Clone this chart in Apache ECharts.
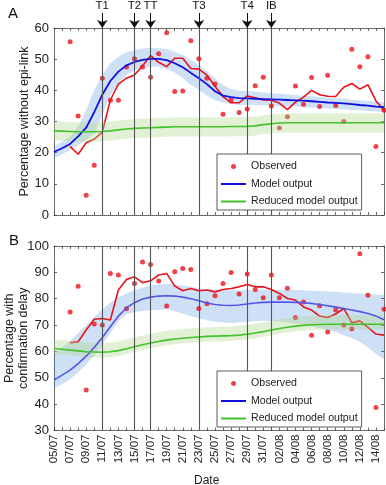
<!DOCTYPE html>
<html>
<head>
<meta charset="utf-8">
<script src="https://cdn.jsdelivr.net/npm/echarts@6/dist/echarts.min.js"></script>
<style>html,body{margin:0;padding:0;background:#fff}#c{width:386px;height:485px}</style>
</head>
<body>
<div id="c"></div>
<script>
// ---- data ----
const dates = ['05/07','06/07','07/07','08/07','09/07','10/07','11/07','12/07','13/07','14/07','15/07','16/07','17/07','18/07','19/07','20/07','21/07','22/07','23/07','24/07','25/07','26/07','27/07','28/07','29/07','30/07','31/07','01/08','02/08','03/08','04/08','05/08','06/08','07/08','08/08','09/08','10/08','11/08','12/08','13/08','14/08','15/08'];
const events = [
  {name:'T1', date:'11/07'}, {name:'T2', date:'15/07'}, {name:'TT', date:'17/07'},
  {name:'T3', date:'23/07'}, {name:'T4', date:'29/07'}, {name:'IB', date:'01/08'}
];
const legendNames = ['Observed','Model output','Reduced model output'];

// Panel A: percentage without epi-link
const observedA = ['-','-',55.6,31.8,6.3,16.0,43.9,36.8,36.8,47.5,50.1,47.5,44.2,51.7,58.5,39.6,39.8,55.9,50.1,43.9,42.0,32.3,36.9,32.9,34.0,41.5,44.2,35.0,27.9,31.5,41.4,35.5,44.1,34.8,44.8,35.1,30.0,53.2,47.6,50.8,22.0,33.6];
const smoothA = ['-','-',22.0,19.5,23.2,24.3,26.6,36.9,42.0,43.9,44.9,47.9,51.1,49.0,47.6,50.3,50.3,47.0,46.8,44.9,41.3,38.0,36.0,36.0,38.2,37.6,36.9,36.8,35.9,33.8,36.2,37.8,40.0,38.6,38.1,38.0,41.0,42.2,40.4,41.8,36.6,33.6];
const modelA = [20.2,21.4,22.8,25.2,28.0,33.0,38.6,43.0,46.0,48.0,49.1,49.8,50.1,50.1,49.7,48.7,47.4,45.6,43.9,42.0,39.7,38.3,37.8,37.5,37.4,37.3,37.2,37.1,37.0,36.9,36.8,36.7,36.5,36.3,36.1,36.0,35.8,35.6,35.3,35.1,34.8,34.6];
const modelUpperA = [22.0,23.5,25.2,28.4,33.7,40.1,44.9,48.7,50.8,52.2,52.9,53.4,53.7,53.5,53.3,52.4,51.3,49.7,48.1,46.0,43.9,41.7,40.4,39.9,39.8,39.6,39.3,39.1,38.9,38.7,38.5,38.3,38.1,37.9,37.7,37.5,37.3,37.0,36.8,36.6,36.4,36.2];
const modelLowerA = [18.2,19.5,20.9,22.5,24.1,26.2,32.1,38.5,42.3,44.9,46.5,47.3,47.6,47.6,46.8,45.7,43.9,41.7,40.1,38.3,36.9,36.1,35.6,35.3,35.3,35.2,35.2,35.1,35.0,34.9,34.8,34.6,34.5,34.3,34.2,34.0,33.9,33.7,33.5,33.4,33.2,33.0];
const reducedA = [27.0,26.9,26.8,26.7,26.7,26.7,26.8,27.0,27.3,27.6,27.8,27.9,28.0,28.1,28.2,28.3,28.3,28.3,28.3,28.3,28.3,28.3,28.4,28.4,28.4,28.6,29.0,29.3,29.5,29.6,29.6,29.6,29.6,29.6,29.6,29.6,29.6,29.6,29.6,29.6,29.6,29.6];
const reducedUpperA = [30.0,29.9,29.8,29.7,29.7,29.7,29.8,30.0,30.3,30.6,30.8,30.9,31.0,31.1,31.2,31.3,31.3,31.3,31.3,31.3,31.3,31.3,31.4,31.4,31.4,31.6,32.0,32.3,32.5,32.6,32.6,32.6,32.6,32.6,32.6,32.6,32.6,32.6,32.6,32.6,32.6,32.6];
const reducedLowerA = [23.9,23.8,23.7,23.6,23.6,23.6,23.7,23.9,24.2,24.5,24.7,24.8,24.9,25.0,25.1,25.2,25.2,25.2,25.2,25.2,25.2,25.2,25.3,25.3,25.3,25.5,25.9,26.2,26.4,26.5,26.5,26.5,26.5,26.5,26.5,26.5,26.5,26.5,26.5,26.5,26.5,26.5];

// Panel B: percentage with confirmation delay
const observedB = ['-','-',75.0,84.7,45.4,70.4,70.0,89.6,89.0,76.2,85.8,93.9,93.0,86.7,77.2,90.2,91.5,91.1,76.3,78.1,81.1,85.8,89.9,81.8,89.4,83.5,80.4,89.0,80.4,84.0,72.8,78.8,66.1,77.3,67.4,75.7,70.0,68.6,97.1,81.3,38.7,76.0];
const smoothB = ['-','-',63.3,63.7,68.1,72.2,72.5,71.9,83.3,87.3,88.3,86.1,86.8,89.0,89.6,84.8,83.0,83.9,83.0,83.3,82.6,83.5,83.9,84.5,85.4,84.5,84.5,83.5,82.0,80.1,79.5,76.9,75.7,73.4,72.9,74.2,76.3,70.9,71.6,69.1,66.6,66.2];
const modelB = [49.1,51.0,52.9,55.4,58.2,61.5,65.3,69.4,73.4,76.5,78.5,79.9,80.6,81.0,81.1,81.0,80.6,80.0,79.2,78.4,77.8,77.5,77.4,77.6,78.0,78.4,78.6,78.7,78.7,78.7,78.6,78.5,78.2,77.8,77.3,76.8,76.3,75.7,75.1,74.4,73.4,72.0];
const modelUpperB = [59.2,61.5,64.0,67.0,70.0,73.0,76.0,78.5,80.5,82.0,83.3,84.3,85.0,85.5,85.6,85.5,85.0,84.5,84.0,83.5,83.3,83.2,83.2,83.2,83.3,83.3,83.4,83.4,83.4,83.3,83.3,83.2,83.0,82.9,82.7,82.6,82.4,82.2,82.0,81.8,81.6,81.4];
const modelLowerB = [46.3,47.5,49.5,52.0,55.0,58.5,62.5,67.0,71.5,74.0,75.0,75.3,75.6,75.8,76.0,75.3,74.3,73.3,72.5,71.8,71.3,71.0,70.8,71.0,71.3,71.5,71.6,71.5,71.3,71.0,70.6,70.1,69.5,68.8,68.0,67.5,66.0,65.0,63.7,61.5,59.0,57.0];
const reducedB = [61.1,60.8,60.5,60.2,59.9,59.8,59.7,59.9,60.3,61.0,61.8,62.5,63.2,63.8,64.3,64.7,65.0,65.3,65.5,65.7,65.8,65.9,66.0,66.2,66.5,67.0,67.5,68.1,68.7,69.2,69.6,69.9,70.1,70.2,70.3,70.3,70.3,70.3,70.3,70.3,70.3,70.3];
const reducedUpperB = [64.6,64.3,64.0,63.7,63.4,63.3,63.2,63.4,63.8,64.5,65.3,66.0,66.7,67.3,67.8,68.2,68.5,68.8,69.0,69.2,69.3,69.4,69.5,69.7,70.0,70.5,71.0,71.6,72.2,72.7,73.1,73.4,73.6,73.7,73.8,73.8,73.8,73.8,73.8,73.8,73.8,73.8];
const reducedLowerB = [59.1,58.8,58.5,58.2,57.9,57.8,57.7,57.9,58.3,59.0,59.8,60.5,61.2,61.8,62.3,62.7,63.0,63.3,63.5,63.7,63.8,63.9,64.0,64.2,64.5,65.0,65.5,66.1,66.7,67.2,67.6,67.9,68.1,68.2,68.3,68.3,68.3,68.3,68.3,68.3,68.3,68.3];

// ---- styling ----
const RED = '#e8141c', BLUE = '#1010dd', BLUE_B = '#5555e8', GREEN = '#44c22a';
const BAND_BLUE = 'rgba(60,130,220,0.25)', BAND_GREEN = 'rgba(175,215,140,0.36)';
const AX = '#444';
const FONT = 'Liberation Sans, Arial, Helvetica, sans-serif';

const chart = echarts.init(document.getElementById('c'), null, {renderer:'canvas'});

function band(name, lower, upper, color, xi, yi, z) {
  const diff = upper.map((u, i) => +(u - lower[i]).toFixed(2));
  return [
    {name: name + '_lo', type:'line', xAxisIndex:xi, yAxisIndex:yi, data: lower, stack: name,
     symbol:'none', lineStyle:{opacity:0}, silent:true, z:z},
    {name: name + '_hi', type:'line', xAxisIndex:xi, yAxisIndex:yi, data: diff, stack: name,
     symbol:'none', lineStyle:{opacity:0}, areaStyle:{color: color, opacity:1}, silent:true, z:z}
  ];
}

function vlines(color) {
  return {
    silent:true, symbol:['none','none'], animation:false,
    label:{show:false},
    lineStyle:{color:color, width:1.1, type:'solid'},
    emphasis:{disabled:true},
    data: events.map(e => ({xAxis: dates.indexOf(e.date)}))
  };
}

function xAx(grid, pos, showLabels) {
  return {
    type:'category', data: dates, gridIndex: grid, position: pos, boundaryGap:false,
    axisLine:{show:true, onZero:false, lineStyle:{color:AX, width:0.8}},
    axisTick:{show:true, inside:true, length:3, interval:0, lineStyle:{color:AX, width:0.8}},
    axisLabel:{show: showLabels, interval:1, rotate:90, fontSize:11.5, color:'#222', fontFamily:FONT, margin:4},
    splitLine:{show:false}
  };
}
function yAx(grid, pos, min, max, showLabels, name, nameGap) {
  return {
    type:'value', gridIndex:grid, position:pos, min:min, max:max, interval:10,
    axisLine:{show:true, onZero:false, lineStyle:{color:AX, width:0.8}},
    axisTick:{show:true, inside:true, length:3, lineStyle:{color:AX, width:0.8}},
    axisLabel:{show:showLabels, fontSize:13, color:'#222', fontFamily:FONT, margin:5},
    splitLine:{show:false},
    name: name || '', nameLocation:'middle', nameGap: nameGap || 0, nameRotate:90,
    nameMoveOverlap:false,
    nameTextStyle:{fontSize:12.5, color:'#222', fontFamily:FONT, lineHeight:14}
  };
}

function legendAt(left, top) {
  return {
    data: [
      {name: legendNames[0], icon:'circle'},
      {name: legendNames[1], itemStyle:{opacity:0}},
      {name: legendNames[2], itemStyle:{opacity:0}}
    ],
    left:left, top:top, orient:'vertical',
    itemWidth:25, itemHeight:5, itemGap:6.5,
    padding:[7,4,3,3], borderColor:'#333', borderWidth:0.8, backgroundColor:'#fff',
    textStyle:{fontSize:10.6, color:'#222', fontFamily:FONT}, z:20, selectedMode:false
  };
}

const gridBase = {containLabel:false, outerBoundsMode:'none'};

const option = {
  animation:false,
  backgroundColor:'#fff',
  textStyle:{fontFamily:FONT},
  title:[
    {text:'A', left:3, top:1, textStyle:{fontSize:15, fontWeight:'normal', color:'#111', fontFamily:FONT}},
    {text:'B', left:4, top:228, textStyle:{fontSize:15, fontWeight:'normal', color:'#111', fontFamily:FONT}},
    {text:'Date', left:189, top:470, textStyle:{fontSize:12, fontWeight:'normal', color:'#222', fontFamily:FONT}}
  ],
  legend:[legendAt(217,154), legendAt(217,371)],
  grid:[
    Object.assign({left:54, top:28, width:330, height:187}, gridBase),
    Object.assign({left:54, top:246, width:330, height:184.5}, gridBase),
    Object.assign({left:54, top:13, width:330, height:15}, gridBase)
  ],
  xAxis:[
    xAx(0,'bottom',false), xAx(0,'top',false),
    xAx(1,'bottom',true), xAx(1,'top',false),
    {type:'category', data:dates, gridIndex:2, boundaryGap:false, show:false}
  ],
  yAxis:[
    yAx(0,'left',0,60,true,'Percentage without epi-link',22), yAx(0,'right',0,60,false),
    yAx(1,'left',30,100,true,'Percentage with\nconfirmation delay',23), yAx(1,'right',30,100,false),
    {type:'value', gridIndex:2, min:0, max:1, show:false}
  ],
  series:[
    ...band('bandModelA', modelLowerA, modelUpperA, BAND_BLUE, 0, 0, 1),
    ...band('bandReducedA', reducedLowerA, reducedUpperA, BAND_GREEN, 0, 0, 3),
    ...band('bandModelB', modelLowerB, modelUpperB, BAND_BLUE, 2, 2, 1),
    ...band('bandReducedB', reducedLowerB, reducedUpperB, BAND_GREEN, 2, 2, 3),
    {name:'Observed', type:'scatter', xAxisIndex:0, yAxisIndex:0, data: observedA,
     symbol:'circle', symbolSize:5, itemStyle:{color:RED}, z:2},
    {name:'smoothA', type:'line', xAxisIndex:0, yAxisIndex:0, data: smoothA, symbol:'none',
     lineStyle:{color:RED, width:1.6}, z:2},
    {name:'Model output', type:'line', xAxisIndex:0, yAxisIndex:0, data: modelA, symbol:'none',
     lineStyle:{color:BLUE, width:1.8}, itemStyle:{color:BLUE}, z:4},
    {name:'Reduced model output', type:'line', xAxisIndex:0, yAxisIndex:0, data: reducedA, symbol:'none',
     lineStyle:{color:GREEN, width:1.6}, itemStyle:{color:GREEN}, z:4,
     markLine: vlines('#555')},
    {name:'Observed', type:'scatter', xAxisIndex:2, yAxisIndex:2, data: observedB,
     symbol:'circle', symbolSize:5, itemStyle:{color:RED}, z:2},
    {name:'smoothB', type:'line', xAxisIndex:2, yAxisIndex:2, data: smoothB, symbol:'none',
     lineStyle:{color:RED, width:1.6}, z:2},
    {name:'Model output', type:'line', xAxisIndex:2, yAxisIndex:2, data: modelB, symbol:'none',
     lineStyle:{color:BLUE_B, width:1.6}, itemStyle:{color:BLUE}, z:4},
    {name:'Reduced model output', type:'line', xAxisIndex:2, yAxisIndex:2, data: reducedB, symbol:'none',
     lineStyle:{color:GREEN, width:1.6}, itemStyle:{color:GREEN}, z:4,
     markLine: vlines('#555')},
    {name:'events', type:'line', xAxisIndex:4, yAxisIndex:4, data: dates.map(() => '-'), symbol:'none',
     markLine:{
       silent:true, animation:false, symbol:['none','arrow'], symbolSize:8,
       lineStyle:{color:'#111', width:1, type:'solid'},
       label:{show:true, position:'start', color:'#111', fontSize:11.5, fontFamily:FONT, distance:1,
              formatter: p => p.name},
       emphasis:{disabled:true},
       data: events.map(e => [
         {name:e.name, coord:[dates.indexOf(e.date), 1]},
         {coord:[dates.indexOf(e.date), 0]}
       ])
     }}
  ]
};
chart.setOption(option);
</script>
</body>
</html>
